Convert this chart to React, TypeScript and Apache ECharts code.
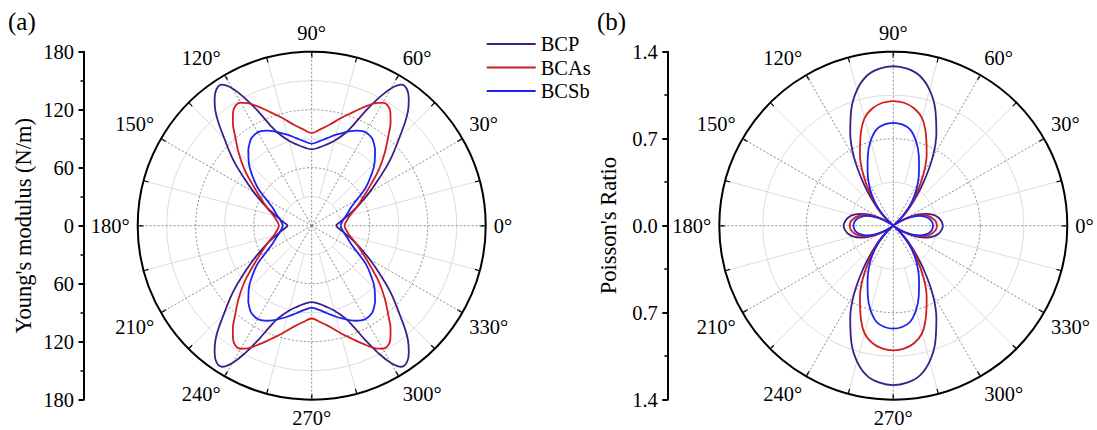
import React, { useEffect, useRef } from "react";
import * as echarts from "echarts";

// ---------- data (first quadrant; curves are mirror-symmetric) ----------
const seriesNames = ["BCP", "BCAs", "BCSb"];
const seriesColors = ["#3d1f85", "#d01e1e", "#1f22ef"];

// (a) Young's modulus (N/m)
const anglesA = [0, 5, 10, 15, 20, 25, 30, 35, 40, 45, 50, 52.5, 55, 57.5, 60, 62.5, 65, 67.5, 70, 75, 80, 85, 90];
const youngBCP = [25, 27.5, 32, 38, 46, 56, 69, 85, 106, 128, 155, 165, 172, 173, 164, 148, 130, 113, 102, 91, 85, 81, 79];
const youngBCAs = [34, 35, 37.5, 41, 47, 54, 63, 75, 91, 107, 124, 134, 142, 147, 147, 143, 137, 131, 125, 115, 106, 100, 96];
const youngBCSb = [30, 31, 33, 36, 40, 45, 54, 68, 80, 92, 102, 106, 109.5, 111, 111.5, 110.5, 108.5, 106, 103, 97.5, 92, 87.5, 85];

// (b) Poisson's ratio
const anglesB = [0, 5, 10, 15, 20, 25, 30, 35, 40, 45, 50, 55, 60, 65, 70, 75, 80, 85, 90];
const poissonBCP = [0.4, 0.39, 0.37, 0.335, 0.28, 0.21, 0.12, 0.03, 0, 0.13, 0.25, 0.42, 0.63, 0.82, 0.99, 1.13, 1.225, 1.268, 1.283];
const poissonBCAs = [0.35, 0.345, 0.325, 0.295, 0.25, 0.19, 0.11, 0.03, 0, 0.1, 0.22, 0.34, 0.49, 0.635, 0.77, 0.895, 0.96, 0.993, 1.003];
const poissonBCSb = [0.32, 0.315, 0.3, 0.27, 0.23, 0.17, 0.1, 0.03, 0, 0.09, 0.2, 0.3, 0.395, 0.49, 0.6, 0.705, 0.785, 0.818, 0.828];

// axis settings
const youngMax = 180;
const youngStep = 60;
const poissonMax = 1.4;
const poissonStep = 0.7;
const angleStep = 30;

const FONT = "Liberation Serif";
const LABEL_SIZE = 20.5;
const TITLE_SIZE = 22.5;

function fullLoop(qAngles: number[], qVals: number[]): [number, number][] {
  const pts: [number, number][] = [];
  const n = qAngles.length;
  for (let i = 0; i < n; i++) pts.push([qVals[i], qAngles[i]]);
  for (let i = n - 2; i >= 0; i--) pts.push([qVals[i], 180 - qAngles[i]]);
  for (let i = 1; i < n; i++) pts.push([qVals[i], 180 + qAngles[i]]);
  for (let i = n - 2; i >= 0; i--) pts.push([qVals[i], 360 - qAngles[i]]);
  return pts;
}

const CA: [number, number] = [311.7, 225.7];
const CB: [number, number] = [893.3, 225.7];
const R = 174;

function mainAngleAxis(polarIndex: number) {
  return {
    polarIndex,
    type: "value",
    min: 0,
    max: 360,
    interval: angleStep,
    startAngle: 0,
    clockwise: false,
    z: 3,
    axisLine: { show: true, lineStyle: { color: "#000", width: 2 } },
    axisTick: { show: true, inside: true, length: 6, lineStyle: { color: "#000", width: 1.5 } },
    minorTick: { show: true, splitNumber: 2, length: 5, lineStyle: { color: "#000", width: 1.2 } },
    axisLabel: {
      show: true,
      margin: 8,
      color: "#000",
      fontSize: LABEL_SIZE,
      fontFamily: FONT,
      formatter: (v: number) => (v >= 360 ? "" : `${v}°`),
    },
    splitLine: { show: true, lineStyle: { color: "#8a8a8a", width: 1, type: [2, 2] } },
    minorSplitLine: { show: false },
  };
}

function lightAngleAxis(polarIndex: number) {
  return {
    polarIndex,
    type: "value",
    min: 0,
    max: 360,
    interval: angleStep / 2,
    startAngle: 0,
    clockwise: false,
    z: 0,
    axisLine: { show: false },
    axisTick: { show: false },
    axisLabel: { show: false },
    splitLine: { show: true, lineStyle: { color: ["rgba(0,0,0,0)", "#dcdcdc"], width: 1 } },
  };
}

function mainRadiusAxis(polarIndex: number, max: number, step: number) {
  return {
    polarIndex,
    type: "value",
    min: 0,
    max,
    interval: step,
    z: 1,
    axisLine: { show: false },
    axisTick: { show: false },
    axisLabel: { show: false },
    minorTick: { show: false, splitNumber: 2 },
    splitLine: {
      show: true,
      lineStyle: { color: ["#8a8a8a", "#8a8a8a", "#8a8a8a", "rgba(0,0,0,0)"], width: 1, type: [2, 2] },
    },
    minorSplitLine: { show: true, lineStyle: { color: "#dcdcdc", width: 1 } },
  };
}

function hiddenRadiusAxis(polarIndex: number) {
  return {
    polarIndex,
    type: "value",
    min: 0,
    max: 1,
    axisLine: { show: false },
    axisTick: { show: false },
    axisLabel: { show: false },
    splitLine: { show: false },
  };
}

function sideYAxis(gridIndex: number, max: number, step: number, digits: number, name: string, nameGap: number) {
  return {
    gridIndex,
    type: "value",
    min: -max,
    max,
    interval: step,
    name,
    nameLocation: "middle",
    nameGap,
    nameTextStyle: { color: "#000", fontSize: TITLE_SIZE, fontFamily: FONT },
    axisLine: { show: true, lineStyle: { color: "#000", width: 2 } },
    axisTick: { show: true, inside: false, length: 5, lineStyle: { color: "#000", width: 2 } },
    minorTick: { show: true, splitNumber: 2, length: 3, lineStyle: { color: "#000", width: 1.5 } },
    axisLabel: {
      margin: 9.5,
      color: "#000",
      fontSize: LABEL_SIZE,
      fontFamily: FONT,
      formatter: (v: number) => Math.abs(v).toFixed(digits),
    },
    splitLine: { show: false },
  };
}

function buildOption() {
  const aSets = [youngBCP, youngBCAs, youngBCSb];
  const bSets = [poissonBCP, poissonBCAs, poissonBCSb];
  const series: any[] = [];
  aSets.forEach((vals, i) => {
    series.push({
      name: seriesNames[i],
      type: "line",
      coordinateSystem: "polar",
      polarIndex: 0,
      data: fullLoop(anglesA, vals),
      symbol: "none",
      showSymbol: false,
      smooth: 0.4,
      lineStyle: { color: seriesColors[i], width: 1.8 },
      itemStyle: { color: seriesColors[i] },
    });
  });
  bSets.forEach((vals, i) => {
    series.push({
      name: seriesNames[i],
      type: "line",
      coordinateSystem: "polar",
      polarIndex: 2,
      data: fullLoop(anglesB, vals),
      symbol: "none",
      showSymbol: false,
      smooth: 0.4,
      lineStyle: { color: seriesColors[i], width: 1.8 },
      itemStyle: { color: seriesColors[i] },
    });
  });

  return {
    animation: false,
    backgroundColor: "#fff",
    textStyle: { fontFamily: FONT },
    polar: [
      { center: CA, radius: [0, R] },
      { center: CA, radius: [R * (30 / 180), R] },
      { center: CB, radius: [0, R] },
      { center: CB, radius: [R * (0.35 / 1.4), R] },
    ],
    angleAxis: [mainAngleAxis(0), lightAngleAxis(1), mainAngleAxis(2), lightAngleAxis(3)],
    radiusAxis: [
      mainRadiusAxis(0, youngMax, youngStep),
      hiddenRadiusAxis(1),
      mainRadiusAxis(2, poissonMax, poissonStep),
      hiddenRadiusAxis(3),
    ],
    grid: [
      { left: 83.5, top: 51.7, width: 20, height: 348 },
      { left: 667.3, top: 51.7, width: 20, height: 348 },
    ],
    xAxis: [
      { gridIndex: 0, type: "value", show: false },
      { gridIndex: 1, type: "value", show: false },
    ],
    yAxis: [
      sideYAxis(0, youngMax, youngStep, 0, "Young's modulus (N/m)", 49),
      sideYAxis(1, poissonMax, poissonStep, 1, "Poisson's Ratio", 47),
    ],
    legend: {
      orient: "vertical",
      left: 481.7,
      top: 28.5,
      icon: "rect",
      itemWidth: 49,
      itemHeight: 2,
      itemGap: 2.5,
      data: seriesNames,
      textStyle: { color: "#000", fontSize: LABEL_SIZE, fontFamily: FONT },
    },
    graphic: [
      { type: "text", left: 8, top: 9, style: { text: "(a)", fontSize: 25, fontFamily: FONT, fill: "#000" } },
      { type: "text", left: 597, top: 9, style: { text: "(b)", fontSize: 25, fontFamily: FONT, fill: "#000" } },
    ],
    series,
  };
}

export default function App() {
  const ref = useRef<HTMLDivElement>(null);
  useEffect(() => {
    if (!ref.current) return;
    const chart = echarts.init(ref.current, null, { renderer: "svg" });
    chart.setOption(buildOption() as any);
    return () => chart.dispose();
  }, []);
  return <div ref={ref} style={{ width: 1097, height: 430, position: "absolute", left: 0, top: 0 }} />;
}
